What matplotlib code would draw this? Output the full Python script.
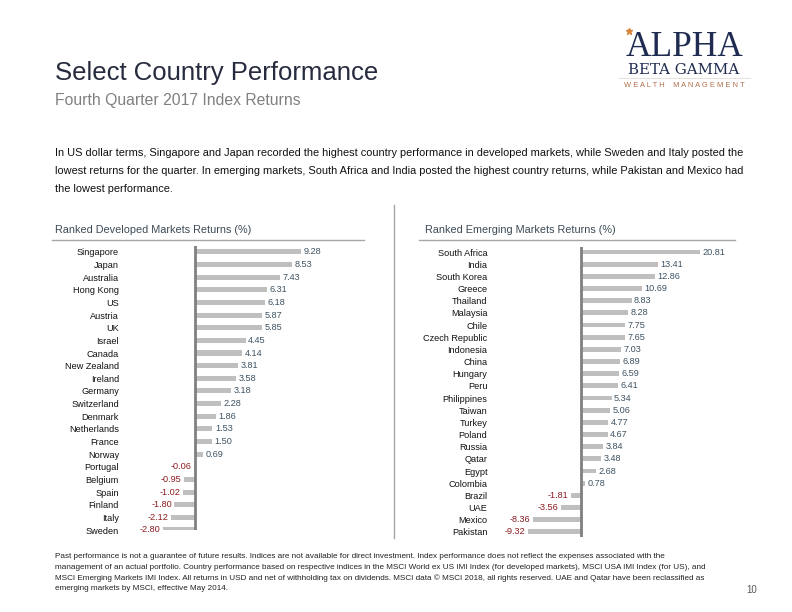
import matplotlib
matplotlib.use("Agg")
import matplotlib.pyplot as plt
from matplotlib.lines import Line2D

plt.rcParams['font.family'] = ['Liberation Sans', 'DejaVu Sans']

dev_countries = ["Singapore", "Japan", "Australia", "Hong Kong", "US", "Austria", "UK",
                 "Israel", "Canada", "New Zealand", "Ireland", "Germany", "Switzerland",
                 "Denmark", "Netherlands", "France", "Norway", "Portugal", "Belgium",
                 "Spain", "Finland", "Italy", "Sweden"]
dev_returns = [9.28, 8.53, 7.43, 6.31, 6.18, 5.87, 5.85, 4.45, 4.14, 3.81, 3.58, 3.18,
               2.28, 1.86, 1.53, 1.50, 0.69, -0.06, -0.95, -1.02, -1.80, -2.12, -2.80]

em_countries = ["South Africa", "India", "South Korea", "Greece", "Thailand", "Malaysia",
                "Chile", "Czech Republic", "Indonesia", "China", "Hungary", "Peru",
                "Philippines", "Taiwan", "Turkey", "Poland", "Russia", "Qatar", "Egypt",
                "Colombia", "Brazil", "UAE", "Mexico", "Pakistan"]
em_returns = [20.81, 13.41, 12.86, 10.69, 8.83, 8.28, 7.75, 7.65, 7.03, 6.89, 6.59, 6.41,
              5.34, 5.06, 4.77, 4.67, 3.84, 3.48, 2.68, 0.78, -1.81, -3.56, -8.36, -9.32]

W, H = 792, 612
fig = plt.figure(figsize=(W / 100, H / 100), dpi=100)


def px_axes(x0, y0, x1, y1):
    return fig.add_axes([x0 / W, 1 - y1 / H, (x1 - x0) / W, (y1 - y0) / H])


def ft(x, y, s, **kw):
    fig.text(x / W, 1 - y / H, s, **kw)


# Header
ft(55, 73, "Select Country Performance", fontsize=18.5, color="#262b3e", va="center")
ft(55, 101, "Fourth Quarter 2017 Index Returns", fontsize=11.3, color="#808080", va="center")

body = ["In US dollar terms, Singapore and Japan recorded the highest country performance in developed markets, while Sweden and Italy posted the",
        "lowest returns for the quarter. In emerging markets, South Africa and India posted the highest country returns, while Pakistan and Mexico had",
        "the lowest performance."]
for i, line in enumerate(body):
    ft(55, 153 + i * 18, line, fontsize=7.9, color="#111111", va="center")

# Logo
ft(684, 55.5, "ALPHA", family=["Liberation Serif", "DejaVu Serif"], fontsize=25.5,
   color="#1f2b50", ha="center", va="baseline")
ft(684, 74, "BETA GAMMA", family=["DejaVu Serif"], fontsize=10.8,
   color="#1f2b50", ha="center", va="baseline")
fig.add_artist(Line2D([618 / W, 750 / W], [1 - 78 / H, 1 - 78 / H], color="#e3dcd4", lw=0.6))
ft(684, 85.5, "W E A L T H    M A N A G E M E N T", fontsize=5.4, color="#b0704a",
   ha="center", va="center")
fig.add_artist(Line2D([629 / W], [1 - 31 / H], marker="*", color="#d9843b", markersize=5, lw=0))

# Panel headers
ft(55, 230, "Ranked Developed Markets Returns (%)", fontsize=7.8, color="#3c4a55", va="center")
ft(425, 230, "Ranked Emerging Markets Returns (%)", fontsize=7.8, color="#3c4a55", va="center")
fig.add_artist(Line2D([52 / W, 364 / W], [1 - 240.5 / H, 1 - 240.5 / H], color="#a6a6a6", lw=1.0))
fig.add_artist(Line2D([419 / W, 735 / W], [1 - 240.5 / H, 1 - 240.5 / H], color="#a6a6a6", lw=1.0))
fig.add_artist(Line2D([394 / W, 394 / W], [1 - 205 / H, 1 - 538 / H], color="#a6a6a6", lw=1.0))

POS = "#3e5363"
NEG = "#8b1c22"


def panel(ax, cats, vals, scale, pad_pt, zero_px, left_px, right_px, first_row, row_h, top_px, bot_px):
    n = len(cats)
    ypos = list(range(n))
    ax.barh(ypos, vals, height=0.4, color="#bfbfbf", zorder=2)
    ax.set_xlim(-(zero_px - left_px) / scale, (right_px - zero_px) / scale)
    ax.set_ylim(n - 1 + (bot_px - (first_row + (n - 1) * row_h)) / row_h,
                -(first_row - top_px) / row_h)
    ax.axvline(0, color="#808080", lw=2.0, zorder=3)
    ax.set_yticks(ypos)
    ax.set_yticklabels(cats, fontsize=6.6, color="#111111")
    ax.tick_params(axis="y", length=0, pad=pad_pt)
    ax.set_xticks([])
    for s in ax.spines.values():
        s.set_visible(False)
    ax.patch.set_alpha(0)
    off = 2.5 / scale
    for y, v in zip(ypos, vals):
        if v >= 0:
            ax.text(v + off, y, f"{v:.2f}", fontsize=6.6, color=POS, va="center", ha="left")
        else:
            ax.text(v - off, y, f"{v:.2f}", fontsize=6.6, color=NEG, va="center", ha="right")


# Developed panel
axL = px_axes(125, 246, 365, 530)
panel(axL, dev_countries, dev_returns, 11.4, 4.3, 195, 125, 365, 252, 12.95, 246, 530)

# Emerging panel
axR = px_axes(491, 247, 735, 537)
panel(axR, em_countries, em_returns, 5.72, 2.6, 581, 491, 735, 252, 12.17, 247, 537)

# Footnote
foot = ["Past performance is not a guarantee of future results. Indices are not available for direct investment. Index performance does not reflect the expenses associated with the",
        "management of an actual portfolio. Country performance based on respective indices in the MSCI World ex US IMI Index (for developed markets), MSCI USA IMI Index (for US), and",
        "MSCI Emerging Markets IMI Index. All returns in USD and net of withholding tax on dividends. MSCI data \u00a9 MSCI 2018, all rights reserved. UAE and Qatar have been reclassified as",
        "emerging markets by MSCI, effective May 2014."]
for i, line in enumerate(foot):
    ft(55, 557 + i * 10.5, line, fontsize=5.85, color="#222222", va="center")
ft(757, 590, "10", fontsize=7, color="#555555", ha="right", va="center")

fig.savefig("out.png", dpi=100)
